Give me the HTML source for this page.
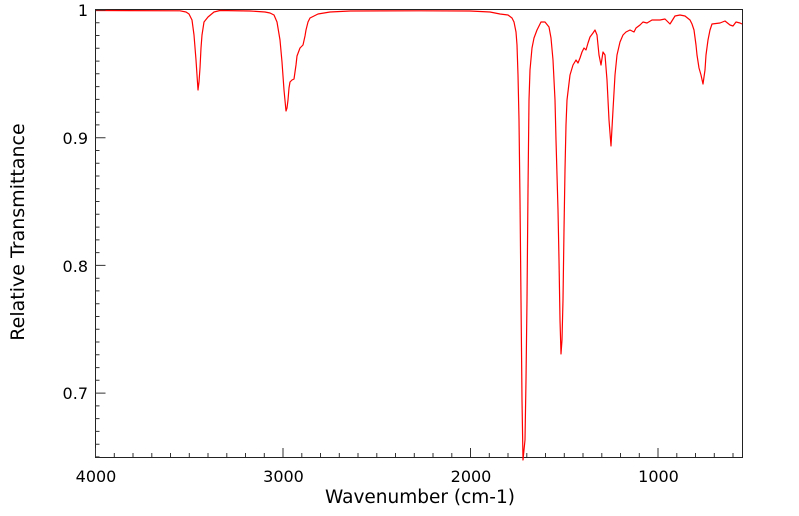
<!DOCTYPE html>
<html><head><style>body{margin:0;background:#fff}svg{display:block}</style></head><body>
<svg width="799" height="516" viewBox="0 0 799 516" xmlns="http://www.w3.org/2000/svg" font-family="DejaVu Sans, Liberation Sans, sans-serif">
<rect width="799" height="516" fill="#fff"/>
<path d="M95.5 457.5V9.5H742.5V457.5Z" fill="none" stroke="#222"/>
<polyline fill="none" stroke="#f00" stroke-width="1.2" stroke-linejoin="round" points="96,10.5 180,10.8 186,12 189,14 192,20 194,35 196,60 198,90 199,82 200,68 201,48 202,35 204,22 208,17 214,12 220,10.5 250,11 265,12 270,13 274,15 277,22 280,40 282,62 284,90 286,111 287,108 288,100 289,88 290,82 292,80 294,79 296,65 297,56 300,48 303,45 305,36 306,30 308,22 310,18 318,14 330,12 350,11 420,10.8 470,11 490,12 500,14 508,15 512,18 514,22 516,32 517,45 518,75 519,120 520,200 521,300 522,400 523,460 525,440 526,380 527,300 528,190 529,100 530,70 532,48 534,38 537,30 541,22 545,22 549,27 551,38 553,60 555,100 556,140 558,210 559,260 560,320 561,354 562,340 563,300 564,230 565,170 566,125 567,100 570,75 573,65 576,60 578,63 580,58 582,52 584,48 586,50 588,43 590,37 593,33 595,30 597,35 599,55 601,65 603,52 605,55 607,80 609,120 611,146 613,110 615,75 617,55 620,42 623,35 626,32 630,30 634,32 636,28 640,25 643,22 647,23 652,20 660,20 665,19 670,24 675,16 680,15 685,16 690,20 692,24 694,30 696,45 697,55 699,68 701,75 703,84 705,70 706,55 708,40 710,30 712,24 720,23 725,21 730,25 733,26 736,22 740,23 742,24"/>
<g font-size="16" fill="#000" text-anchor="middle">
<text x="96" y="482">4000</text><text x="283.5" y="482">3000</text><text x="471" y="482">2000</text><text x="658.5" y="482">1000</text>
<text x="420" y="503" font-size="18.5">Wavenumber (cm-1)</text>
</g>
<g font-size="16" fill="#000" text-anchor="end">
<text x="88" y="16">1</text><text x="88" y="144">0.9</text><text x="88" y="272">0.8</text><text x="88" y="399">0.7</text>
</g>
<text transform="translate(24,232) rotate(-90)" font-size="19" text-anchor="middle">Relative Transmittance</text>
<path id="ticks" stroke="#333" fill="none" d=""/>
<script>
var d="";
for(var w=4000;w>=560;w-=100){var x=95.5+(4000-w)*0.1875;var L=(w%1000==0)?9:4;d+="M"+x.toFixed(1)+" 457V"+(457-L);}
for(var i=0;i<=35;i++){var y=10+i*12.77;if(y>457)break;var L=(i%10==0)?10:4;d+="M95.5 "+y.toFixed(1)+"H"+(95.5+L);}
document.getElementById("ticks").setAttribute("d",d);
</script>
</svg>
</body></html>
